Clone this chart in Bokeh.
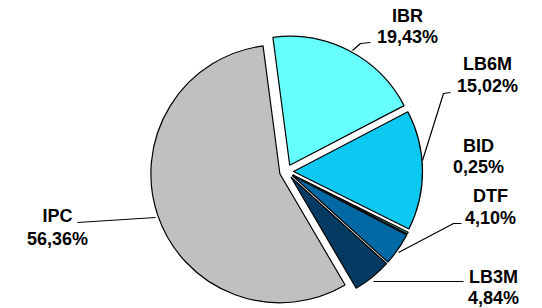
import math
from bokeh.plotting import figure
from bokeh.models import Range1d, ColumnDataSource
from bokeh.core.properties import value
from bokeh.embed import file_html
from bokeh.resources import INLINE

# ---- data ----
categories = ["IBR", "LB6M", "BID", "DTF", "LB3M", "IPC"]
shares = [19.43, 15.02, 0.25, 4.10, 4.84, 56.36]
colors = ["#66FFFF", "#0DC8F0", "#339999", "#0068A3", "#053A63", "#C0C0C0"]

# ---- layout (screen pixels, y measured downward) ----
W, H = 542, 308
CX, CY = 286, 171
R = 129
EXPLODE = 7
START = 97.5  # degrees, first slice begins here, slices run clockwise

def sy(y):
    return H - y

p = figure(width=W, height=H, output_backend="svg", toolbar_location=None,
           x_range=Range1d(0, W), y_range=Range1d(0, H),
           min_border=0, outline_line_color=None)
p.axis.visible = False
p.grid.visible = False
p.background_fill_color = "white"
p.border_fill_color = "white"

total = sum(shares)
xs, ys, sa, ea = [], [], [], []
a = START
for v in shares:
    sweep = v / total * 360.0
    hi = a
    lo = a - sweep
    mid = math.radians((hi + lo) / 2)
    xs.append(CX + EXPLODE * math.cos(mid))
    ys.append(sy(CY) + EXPLODE * math.sin(mid))
    sa.append(math.radians(lo))
    ea.append(math.radians(hi))
    a = lo

src = ColumnDataSource(dict(x=xs, y=ys, start=sa, end=ea, color=colors, cat=categories))
p.wedge(x="x", y="y", radius=R, start_angle="start", end_angle="end",
        fill_color="color", line_color="black", line_width=1.2, source=src)

# leader lines
leaders = {
    "IBR": [(370, 42), (360, 43), (352, 50)],
    "LB6M": [(450, 92), (443, 93), (422, 160)],
    "DTF": [(461, 223), (453, 223), (398, 252)],
    "LB3M": [(463, 281), (373, 281)],
    "IPC": [(77, 222), (155, 217)],
}
lx = [[pt[0] for pt in pts] for pts in leaders.values()]
ly = [[sy(pt[1]) for pt in pts] for pts in leaders.values()]
p.multi_line(xs=lx, ys=ly, line_color="black", line_width=1.2)

# labels
label_pos = {
    "IBR": (407, 15, 36),
    "LB6M": (487, 63, 85),
    "BID": (478, 145, 166),
    "DTF": (490, 195, 217),
    "LB3M": (493, 276, 297),
    "IPC": (57, 215, 238),
}
tx, ty, tt = [], [], []
for c, v in zip(categories, shares):
    x0, y1, y2 = label_pos[c]
    tx += [x0, x0]
    ty += [sy(y1), sy(y2)]
    tt += [c, f"{v:.2f}".replace(".", ",") + "%"]
p.text(x=tx, y=ty, text=tt, text_font=value("Liberation Sans"),
       text_font_size="18px", text_font_style="bold", text_color="black",
       text_align="center", text_baseline="middle")

open("out.html", "w").write(file_html(p, INLINE))
